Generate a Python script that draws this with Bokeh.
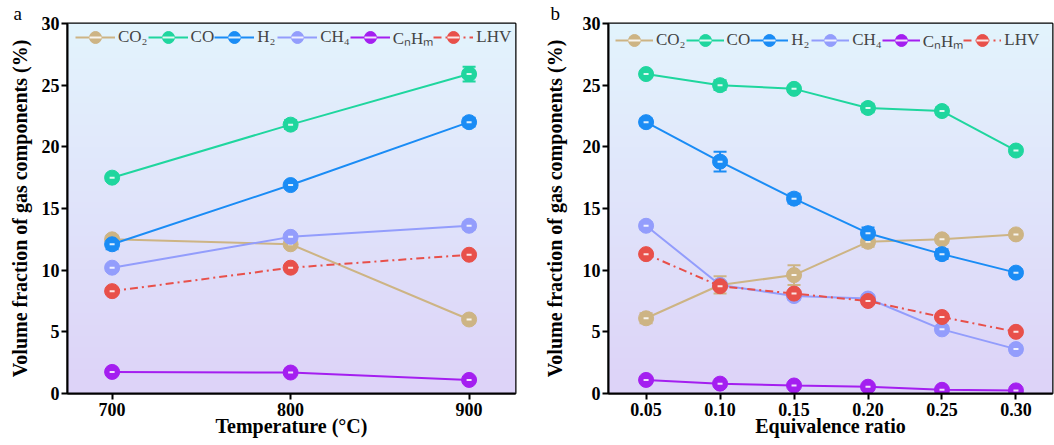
import numpy as np
from bokeh.plotting import figure
from bokeh.layouts import row
from bokeh.models import (ColumnDataSource, Whisker, TeeHead, Legend, LegendItem,
                          Title, Range1d, FixedTicker)
from bokeh.embed import file_html
from bokeh.resources import INLINE

# ---------------- data ----------------
temperature = [700, 800, 900]
ratio = [0.05, 0.10, 0.15, 0.20, 0.25, 0.30]
ratio_ticks = ["0.05", "0.10", "0.15", "0.20", "0.25", "0.30"]

series_names = ["CO\u2082", "CO", "H\u2082", "CH\u2084", "C\u2099H\u2098", "LHV"]

a_co2 = [12.5, 12.1, 6.0]
a_co = [17.5, 21.8, 25.9]
a_h2 = [12.1, 16.9, 22.0]
a_ch4 = [10.2, 12.7, 13.6]
a_cnhm = [1.75, 1.7, 1.1]
a_lhv = [8.3, 10.2, 11.25]

a_co2_err = [0.3, 0.3, 0.3]
a_co_err = [0.25, 0.35, 0.6]
a_h2_err = [0.4, 0.2, 0.35]
a_ch4_err = [0.25, 0.2, 0.3]
a_cnhm_err = [0.1, 0.1, 0.1]
a_lhv_err = [0.15, 0.15, 0.15]

b_co2 = [6.1, 8.8, 9.6, 12.3, 12.5, 12.9]
b_co = [25.9, 25.0, 24.7, 23.15, 22.9, 19.7]
b_h2 = [22.0, 18.8, 15.8, 13.0, 11.3, 9.8]
b_ch4 = [13.6, 8.8, 7.9, 7.7, 5.2, 3.6]
b_cnhm = [1.1, 0.8, 0.65, 0.55, 0.3, 0.25]
b_lhv = [11.3, 8.7, 8.1, 7.5, 6.2, 5.0]

b_co2_err = [0.4, 0.7, 0.8, 0.4, 0.3, 0.3]
b_co_err = [0.25, 0.4, 0.25, 0.35, 0.3, 0.3]
b_h2_err = [0.3, 0.8, 0.4, 0.45, 0.4, 0.3]
b_ch4_err = [0.3, 0.25, 0.3, 0.3, 0.3, 0.3]
b_cnhm_err = [0.1, 0.1, 0.1, 0.1, 0.1, 0.1]
b_lhv_err = [0.2, 0.2, 0.2, 0.2, 0.2, 0.2]

colors = ["#cdb484", "#1fd69e", "#1a8cf5", "#939dfc", "#a41ff0", "#e8504a"]
dashes = ["solid", "solid", "solid", "solid", "solid", "8 4 2 4"]

FONT = "Liberation Serif"
TOP_RGB = (227, 244, 253)
BOT_RGB = (221, 211, 248)


def gradient_image(n=200):
    img = np.empty((n, 1), dtype=np.uint32)
    view = img.view(dtype=np.uint8).reshape((n, 1, 4))
    for i in range(n):
        t = i / (n - 1)  # 0 bottom -> 1 top
        r = BOT_RGB[0] + (TOP_RGB[0] - BOT_RGB[0]) * t
        g = BOT_RGB[1] + (TOP_RGB[1] - BOT_RGB[1]) * t
        b = BOT_RGB[2] + (TOP_RGB[2] - BOT_RGB[2]) * t
        view[i, 0] = [int(r), int(g), int(b), 255]
    return img


def make_panel(xs, ys_list, errs_list, xr, width, border_left, border_right,
               border_bottom, ylab_standoff, xlabel, ticks, tick_labels,
               letter, letter_dx, legend_dx, glyph_w):
    frame_h = 445 - 23 - border_bottom
    p = figure(width=width, height=445, output_backend="svg", toolbar_location=None,
               x_range=Range1d(*xr), y_range=Range1d(0, 30),
               min_border_left=border_left, min_border_right=border_right,
               min_border_top=23, min_border_bottom=border_bottom)
    p.background_fill_color = "white"
    p.border_fill_color = "white"
    p.outline_line_color = "black"
    p.outline_line_width = 2
    p.grid.visible = False

    p.image_rgba(image=[gradient_image()], x=xr[0], y=0, dw=xr[1] - xr[0], dh=30,
                 level="image")

    items = []
    for name, ys, errs, c, d in zip(series_names, ys_list, errs_list, colors, dashes):
        src = ColumnDataSource(dict(x=xs, y=ys,
                                    lo=[y - e for y, e in zip(ys, errs)],
                                    hi=[y + e for y, e in zip(ys, errs)]))
        w = Whisker(source=src, base="x", lower="lo", upper="hi", line_color=c,
                    line_width=2, level="underlay",
                    upper_head=TeeHead(size=13, line_color=c, line_width=2),
                    lower_head=TeeHead(size=13, line_color=c, line_width=2))
        p.add_layout(w)
        ln = p.line("x", "y", source=src, line_color=c, line_width=2, line_dash=d)
        sc = p.scatter("x", "y", source=src, size=15, fill_color=c, line_color=c,
                       line_width=1)
        hl = p.scatter("x", "y", source=src, marker="dash", size=5,
                       line_color="white", line_alpha=0.85, line_width=2)
        items.append(LegendItem(label=name, renderers=[ln, sc, hl]))

    leg = Legend(items=items, orientation="horizontal",
                 location=(legend_dx, frame_h - 32),
                 margin=0, padding=0, spacing=0, label_standoff=3,
                 glyph_width=glyph_w, glyph_height=30,
                 label_text_font=FONT, label_text_font_size="17px",
                 label_height=30, background_fill_alpha=0, border_line_alpha=0)
    p.add_layout(leg)

    for ax in (p.xaxis[0], p.yaxis[0]):
        ax.axis_line_width = 2
        ax.axis_line_color = "black"
        ax.major_tick_line_width = 2
        ax.major_tick_line_color = "black"
        ax.major_tick_out = 6
        ax.major_tick_in = 0
        ax.minor_tick_line_color = None
        ax.major_label_text_font = FONT
        ax.major_label_text_font_style = "bold"
        ax.major_label_text_font_size = "18px"
        ax.major_label_text_color = "black"
        ax.axis_label_text_font = FONT
        ax.axis_label_text_font_style = "bold"
        ax.axis_label_text_font_size = "20px"
        ax.axis_label_text_color = "black"

    p.yaxis.ticker = FixedTicker(ticks=[0, 5, 10, 15, 20, 25, 30])
    p.yaxis.axis_label = "Volume fraction of gas components (%)"
    p.yaxis.major_label_standoff = 2
    p.yaxis.axis_label_standoff = ylab_standoff

    p.xaxis.ticker = FixedTicker(ticks=ticks)
    p.xaxis.major_label_overrides = {t: s for t, s in zip(ticks, tick_labels)}
    p.xaxis.major_label_standoff = 3
    p.xaxis.axis_label = xlabel
    p.xaxis.axis_label_standoff = -4

    t = Title(text=letter, align="left", offset=letter_dx, standoff=0,
              text_font=FONT, text_font_size="19px", text_font_style="normal",
              text_color="black", vertical_align="bottom")
    p.add_layout(t, "above")
    return p


pa = make_panel(temperature,
                [a_co2, a_co, a_h2, a_ch4, a_cnhm, a_lhv],
                [a_co2_err, a_co_err, a_h2_err, a_ch4_err, a_cnhm_err, a_lhv_err],
                (675, 926), 540, 67, 25, 49, 8, "Temperature (\u00b0C)",
                temperature, [str(t) for t in temperature], "a", -54, 8, 40)

pb = make_panel(ratio,
                [b_co2, b_co, b_h2, b_ch4, b_cnhm, b_lhv],
                [b_co2_err, b_co_err, b_h2_err, b_ch4_err, b_cnhm_err, b_lhv_err],
                (0.0246, 0.3247), 514, 63, 2, 52, 14, "Equivalence ratio",
                ratio, ratio_ticks, "b", -58, 7, 38)

layout = row(pa, pb)
open("out.html", "w").write(file_html(layout, INLINE))
